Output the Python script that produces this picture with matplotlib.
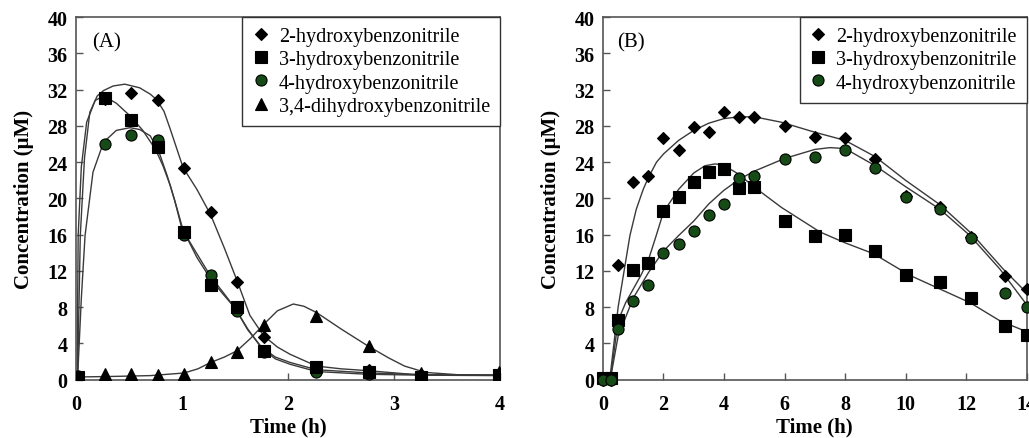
import matplotlib
matplotlib.use("Agg")
import matplotlib.pyplot as plt
from matplotlib.lines import Line2D

# ---------------- Panel A data ----------------
time_a = [0.02, 0.27, 0.52, 0.77, 1.02, 1.27, 1.52, 1.77, 2.26, 2.76, 3.25, 3.99]
a_2hb = [0.3, 31.0, 31.6, 30.8, 23.4, 18.5, 10.8, 4.7, 1.3, 1.1, 0.5, 0.6]
a_3hb = [0.3, 31.1, 28.7, 25.7, 16.3, 10.4, 8.0, 3.2, 1.4, 0.8, 0.3, 0.5]
a_4hb = [0.4, 26.0, 27.0, 26.4, 16.0, 11.6, 7.6, 3.1, 0.8, 0.6, 0.4, 0.5]
a_34dhb = [0.3, 0.6, 0.6, 0.5, 0.6, 1.9, 3.1, 6.0, 7.05, 3.75, 0.7, 0.8]

# fitted curves
fa_2hb_t = [0.015, 0.04, 0.08, 0.13, 0.2, 0.26, 0.35, 0.46, 0.6, 0.7, 0.76, 0.83, 0.89, 0.95, 1.01,
            1.14, 1.27, 1.4, 1.52, 1.64, 1.77, 1.9, 2.02, 2.27, 2.5, 2.75, 3.16, 3.5, 4.0]
fa_2hb_c = [0.3, 15.9, 24.5, 29.5, 31.3, 31.9, 32.4, 32.6, 32.2, 31.5, 30.9, 29.6, 27.6, 25.5, 23.4,
            21.0, 18.2, 14.5, 10.9, 7.1, 4.85, 3.6, 2.8, 1.5, 1.2, 1.0, 0.6, 0.5, 0.5]
fa_3hb_t = [0.01, 0.02, 0.05, 0.1, 0.18, 0.26, 0.38, 0.51, 0.63, 0.75, 0.82, 0.89, 0.95, 1.01, 1.14,
            1.27, 1.39, 1.5, 1.62, 1.75, 1.88, 2.02, 2.27, 2.75, 3.25, 4.0]
fa_3hb_c = [0.3, 15.9, 23.5, 28.4, 30.8, 31.3, 30.5, 29.1, 27.5, 25.4, 23.6, 21.4, 19.0, 16.5, 13.5,
            11.1, 9.4, 7.9, 5.5, 3.6, 2.5, 1.9, 1.1, 0.75, 0.55, 0.5]
fa_4hb_t = [0.015, 0.05, 0.085, 0.16, 0.26, 0.38, 0.51, 0.6, 0.7, 0.78, 0.86, 0.93, 1.0, 1.14, 1.27,
            1.39, 1.5, 1.62, 1.75, 1.88, 2.02, 2.27, 2.75, 3.25, 4.0]
fa_4hb_c = [0.3, 9.0, 15.9, 22.9, 26.2, 27.5, 27.8, 27.6, 26.9, 25.2, 22.5, 19.8, 16.6, 13.9, 11.4,
            9.6, 7.9, 5.6, 3.5, 2.3, 1.7, 0.9, 0.6, 0.5, 0.45]
fa_34_t = [0.015, 0.3, 0.7, 1.02, 1.15, 1.27, 1.4, 1.52, 1.65, 1.77, 1.9, 2.05, 2.15, 2.27, 2.5,
           2.75, 2.95, 3.1, 3.3, 3.6, 4.0]
fa_34_c = [0.3, 0.35, 0.45, 0.74, 1.2, 1.9, 2.5, 3.2, 4.6, 6.1, 7.6, 8.35, 8.1, 7.4, 5.6,
           3.75, 2.4, 1.5, 0.8, 0.55, 0.5]

# ---------------- Panel B data ----------------
time_b = [0.0, 0.27, 0.5, 1.0, 1.5, 2.0, 2.5, 3.0, 3.5, 4.0, 4.5, 5.0, 6.0, 7.0, 8.0, 9.0,
          10.0, 11.15, 12.15, 13.3, 14.0]
b_2hb = [0.0, 0.0, 12.7, 21.8, 22.5, 26.7, 25.3, 27.9, 27.3, 29.5, 29.0, 29.0, 28.0, 26.8, 26.7,
         24.4, 20.3, 19.0, 15.7, 11.4, 10.0]
b_3hb = [0.2, 0.2, 6.6, 12.1, 12.9, 18.6, 20.2, 21.8, 22.9, 23.2, 21.1, 21.3, 17.5, 15.9, 15.95,
         14.2, 11.5, 10.8, 9.0, 5.9, 4.9]
b_4hb = [0.0, 0.0, 5.6, 8.7, 10.4, 14.0, 15.0, 16.4, 18.2, 19.4, 22.2, 22.5, 24.3, 24.6, 25.3,
         23.3, 20.2, 18.8, 15.6, 9.55, 8.05]

fb_2hb_t = [0.23, 0.5, 0.89, 1.1, 1.33, 1.5, 1.77, 2.0, 2.5, 3.0, 3.5, 4.0, 4.5, 5.0, 5.9, 7.0,
            8.0, 9.0, 10.0, 11.14, 12.19, 13.23, 14.0]
fb_2hb_c = [0.2, 8.0, 15.9, 18.8, 21.0, 22.3, 24.0, 24.9, 26.4, 27.5, 28.3, 28.8, 29.0, 29.0, 28.4, 27.3,
            26.4, 24.6, 22.0, 19.3, 16.1, 12.2, 9.6]
fb_3hb_t = [0.25, 0.5, 0.75, 1.0, 1.25, 1.5, 1.75, 2.0, 2.5, 3.0, 3.37, 3.7, 3.97, 4.47, 5.02, 5.9,
            7.17, 8.0, 8.94, 10.15, 11.14, 12.13, 13.12, 14.0]
fb_3hb_c = [0.2, 6.5, 8.5, 10.0, 11.5, 13.2, 15.8, 18.5, 21.0, 22.8, 23.6, 23.8, 23.7, 22.7, 21.2, 19.0,
            16.3, 15.1, 13.9, 11.5, 10.0, 8.5, 6.5, 5.3]
fb_4hb_t = [0.25, 0.5, 1.0, 1.5, 2.0, 2.5, 3.0, 3.5, 4.0, 4.5, 5.0, 6.0, 7.0, 7.5, 8.0, 9.0,
            10.0, 11.14, 12.13, 13.12, 14.0]
fb_4hb_c = [0.2, 4.8, 9.0, 11.8, 14.2, 15.9, 17.5, 19.4, 20.9, 22.1, 23.0, 24.4, 25.4, 25.6, 25.5, 23.6,
            21.3, 18.8, 15.9, 12.2, 8.3]

labels_a = ["2-hydroxybenzonitrile", "3-hydroxybenzonitrile", "4-hydroxybenzonitrile",
            "3,4-dihydroxybenzonitrile"]
labels_b = labels_a[:3]

GREEN = "#164a16"
LINE = "#3a3a3a"
SERIF = ["Liberation Serif", "DejaVu Serif"]
plt.rcParams["font.family"] = SERIF

mk = {
    "D": dict(marker="D", ms=6.5, mfc="black", mec="black", mew=0.8),
    "s": dict(marker="s", ms=8.5, mfc="black", mec="black", mew=0.8),
    "o": dict(marker="o", ms=8.0, mfc=GREEN, mec="black", mew=0.8),
    "^": dict(marker="^", ms=8.5, mfc="black", mec="black", mew=0.8),
}

fig = plt.figure(figsize=(10.29, 4.39), dpi=100)
axA = fig.add_axes([0.0739, 0.1328, 0.412, 0.826])
axB = fig.add_axes([0.586, 0.1328, 0.4116, 0.826])


def style(ax, xmax, xstep):
    ax.set_ylim(0, 40)
    ax.set_xlim(0, xmax)
    ax.set_yticks(range(0, 41, 4))
    ax.set_xticks(range(0, xmax + 1, xstep))
    ax.tick_params(direction="in", length=5, width=1, color="#555555")
    ax.tick_params(axis="x", pad=10)
    ax.tick_params(axis="y", pad=6)
    for lab in ax.get_xticklabels() + ax.get_yticklabels():
        lab.set_fontweight("bold")
        lab.set_fontsize(14.5)
    for sp in ax.spines.values():
        sp.set_color("#555555")
        sp.set_linewidth(1.2)
    ax.set_xlabel("Time (h)", fontsize=15, fontweight="bold", labelpad=2)
    ax.set_ylabel("Concentration (\u03bcM)", fontsize=15, fontweight="bold", labelpad=10)


# Panel A
for t, c in [(fa_2hb_t, fa_2hb_c), (fa_3hb_t, fa_3hb_c), (fa_4hb_t, fa_4hb_c), (fa_34_t, fa_34_c)]:
    axA.plot(t, c, color=LINE, lw=1.0, zorder=2)
axA.plot(time_a, a_2hb, ls="none", zorder=3, **mk["D"])
axA.plot(time_a, a_34dhb, ls="none", zorder=3, **mk["^"])
axA.plot(time_a, a_4hb, ls="none", zorder=4, **mk["o"])
axA.plot(time_a, a_3hb, ls="none", zorder=4, **mk["s"])
style(axA, 4, 1)
axA.text(0.038, 0.931, "(A)", transform=axA.transAxes, fontsize=15, va="center", ha="left")

# Panel B
for t, c in [(fb_2hb_t, fb_2hb_c), (fb_3hb_t, fb_3hb_c), (fb_4hb_t, fb_4hb_c)]:
    axB.plot(t, c, color=LINE, lw=1.0, zorder=2)
axB.plot(time_b, b_2hb, ls="none", zorder=3, clip_on=False, **mk["D"])
axB.plot(time_b, b_3hb, ls="none", zorder=3, clip_on=False, **mk["s"])
axB.plot(time_b, b_4hb, ls="none", zorder=4, clip_on=False, **mk["o"])
style(axB, 14, 2)
axB.text(0.033, 0.931, "(B)", transform=axB.transAxes, fontsize=15, va="center", ha="left")


def legend(ax, labels, keys):
    handles = [Line2D([], [], ls="none", **mk[k]) for k in keys]
    leg = ax.legend(handles, labels, loc="upper right", borderaxespad=0, fontsize=14.5,
                    frameon=True, fancybox=False, handlelength=0.8, handletextpad=0.5,
                    labelspacing=0.2, borderpad=0.5)
    fr = leg.get_frame()
    fr.set_edgecolor("#333333")
    fr.set_linewidth(1.0)
    fr.set_alpha(1)


legend(axA, labels_a, ["D", "s", "o", "^"])
legend(axB, labels_b, ["D", "s", "o"])

fig.savefig("out.png", dpi=100)
